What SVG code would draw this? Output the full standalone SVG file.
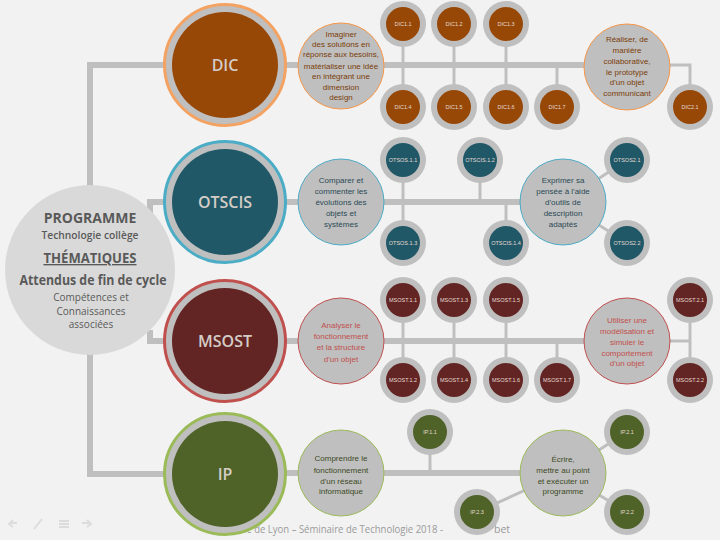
<svg xmlns="http://www.w3.org/2000/svg" width="720" height="540" viewBox="0 0 720 540">
<defs>
<style>
.bg{fill:#f2f2f2}
.thick{stroke:#bfbfbf;stroke-width:6;fill:none}
.thin{stroke:#bfbfbf;stroke-width:3;fill:none}
.ring{fill:#bfbfbf}
.big-lbl{font-family:"Open Sans","Liberation Sans",sans-serif;font-size:16px;font-weight:600;fill:#d4cdc6;text-anchor:middle}
.sm-lbl{font-family:"Liberation Sans",Arial,sans-serif;font-size:5.5px;fill:#e3dad2;text-anchor:middle}
.desc{font-family:"Liberation Sans",Arial,sans-serif;font-size:8px;text-anchor:middle}
.dic-d{fill:#bfbfbf;stroke:#f79646;stroke-width:1}
.ots-d{fill:#bfbfbf;stroke:#4bacc6;stroke-width:1}
.msost-d{fill:#bfbfbf;stroke:#c0504d;stroke-width:1}
.ip-d{fill:#bfbfbf;stroke:#9bbb59;stroke-width:1}
.dic-t{fill:#7a3d0a}
.ots-t{fill:#2b4a55}
.msost-t{fill:#c0504d}
.ip-t{fill:#3d4a25}
.dic-f{fill:#974706}
.ots-f{fill:#215868}
.msost-f{fill:#632523}
.ip-f{fill:#4f6228}
.left{font-family:"Open Sans","Liberation Sans",sans-serif;fill:#595959;text-anchor:middle}
.foot{font-family:"Open Sans","Liberation Sans",sans-serif;font-size:10.5px;fill:#9a9a9a}
.nav{fill:none;stroke:#dcdcdc;stroke-width:2}
</style>
</defs>
<rect class="bg" x="0" y="0" width="720" height="540"/>

<g id="footer">
<text class="foot" x="244" y="533" textLength="199" lengthAdjust="spacingAndGlyphs">ie de Lyon – Séminaire de Technologie 2018 -</text>
<text class="foot" x="494" y="533">bet</text>
</g>
<g id="nav-icons">
<path class="nav" d="M17,523 H10 M13,520 L9,524 L13,527"/>
<path class="nav" d="M34,529 L42,519"/>
<path class="nav" d="M59,521 H69 M59,524 H69 M59,527 H69"/>
<path class="nav" d="M82,523 H90 M87,520 L91,524 L87,527"/>
</g>

<g id="connectors">
<path class="thick" d="M90,190 V65 H170"/>
<path class="thick" d="M90,350 V474 H170"/>
<path class="thick" d="M150,215 V202 H170"/>
<path class="thick" d="M150,330 V341 H170"/>
<path class="thick" d="M280,65 H600"/>
<path class="thick" d="M280,202 H540"/>
<path class="thick" d="M280,341 H600"/>
<path class="thick" d="M280,473 H540"/>
<path class="thin" d="M403,24 V107 M454,24 V107 M506,24 V107 M557,65 V107 M660,65 H690 V107"/>
<path class="thin" d="M403,160 V243 M480,160 V202 M506,202 V243 M563,202 L627,160 M563,202 L627,243"/>
<path class="thin" d="M403,300 V380 M454,300 V380 M506,300 V380 M557,341 V380 M660,341 H690 M690,300 V380"/>
<path class="thin" d="M430,432 V473 M563,473 L627,432 M563,473 L627,512 M563,473 L477,512"/>
</g>

<g id="programme">
<circle cx="90" cy="270" r="85" fill="#d9d9d9"/>
<text class="left" x="90" y="223" font-size="14" font-weight="bold">PROGRAMME</text>
<text class="left" x="90" y="239" font-size="10" font-weight="600" textLength="97" lengthAdjust="spacingAndGlyphs">Technologie collège</text>
<text class="left" x="90" y="263" font-size="13.5" font-weight="bold" text-decoration="underline" textLength="93" lengthAdjust="spacingAndGlyphs">THÉMATIQUES</text>
<text class="left" x="93" y="285" font-size="13.5" font-weight="bold" textLength="147" lengthAdjust="spacingAndGlyphs">Attendus de fin de cycle</text>
<text class="left" x="91" y="301" font-size="10">Compétences et</text>
<text class="left" x="91" y="315" font-size="10">Connaissances</text>
<text class="left" x="91" y="328" font-size="10">associées</text>
</g>

<g id="DIC">
<circle cx="225" cy="65" r="60.5" fill="#bfbfbf" stroke="#f4a261" stroke-width="3"/>
<circle class="dic-f" cx="225" cy="65" r="53"/>
<text class="big-lbl" x="225" y="71">DIC</text>
</g>
<g id="OTSCIS">
<circle cx="225" cy="202" r="60.5" fill="#bfbfbf" stroke="#4bacc6" stroke-width="3"/>
<circle class="ots-f" cx="225" cy="202" r="53"/>
<text class="big-lbl" x="225" y="208">OTSCIS</text>
</g>
<g id="MSOST">
<circle cx="225" cy="341" r="60.5" fill="#bfbfbf" stroke="#c0504d" stroke-width="3"/>
<circle class="msost-f" cx="225" cy="341" r="53"/>
<text class="big-lbl" x="225" y="347">MSOST</text>
</g>
<g id="IP">
<circle cx="225" cy="474" r="60.5" fill="#bfbfbf" stroke="#9bbb59" stroke-width="3"/>
<circle class="ip-f" cx="225" cy="474" r="53"/>
<text class="big-lbl" x="225" y="480">IP</text>
</g>

<g id="DIC-desc1">
<circle class="dic-d" cx="341" cy="66" r="43"/>
<text class="desc dic-t" x="341" y="37">Imaginer</text>
<text class="desc dic-t" x="341" y="47">des solutions en</text>
<text class="desc dic-t" x="341" y="57">réponse aux besoins,</text>
<text class="desc dic-t" x="341" y="69">matérialiser une idée</text>
<text class="desc dic-t" x="341" y="79">en intégrant une</text>
<text class="desc dic-t" x="341" y="90">dimension</text>
<text class="desc dic-t" x="341" y="100">design</text>
</g>
<g id="DIC-desc2">
<circle class="dic-d" cx="627" cy="67" r="43"/>
<text class="desc dic-t" x="627" y="42">Réaliser, de</text>
<text class="desc dic-t" x="627" y="53">manière</text>
<text class="desc dic-t" x="627" y="64">collaborative,</text>
<text class="desc dic-t" x="627" y="75">le prototype</text>
<text class="desc dic-t" x="627" y="85">d'un objet</text>
<text class="desc dic-t" x="627" y="96">communicant</text>
</g>
<g id="DIC1.1"><circle class="ring" cx="403" cy="24" r="23"/><circle class="dic-f" cx="403" cy="24" r="17"/><text class="sm-lbl" x="403" y="26">DIC1.1</text></g>
<g id="DIC1.2"><circle class="ring" cx="454" cy="24" r="23"/><circle class="dic-f" cx="454" cy="24" r="17"/><text class="sm-lbl" x="454" y="26">DIC1.2</text></g>
<g id="DIC1.3"><circle class="ring" cx="506" cy="24" r="23"/><circle class="dic-f" cx="506" cy="24" r="17"/><text class="sm-lbl" x="506" y="26">DIC1.3</text></g>
<g id="DIC1.4"><circle class="ring" cx="403" cy="107" r="23"/><circle class="dic-f" cx="403" cy="107" r="17"/><text class="sm-lbl" x="403" y="109">DIC1.4</text></g>
<g id="DIC1.5"><circle class="ring" cx="454" cy="107" r="23"/><circle class="dic-f" cx="454" cy="107" r="17"/><text class="sm-lbl" x="454" y="109">DIC1.5</text></g>
<g id="DIC1.6"><circle class="ring" cx="506" cy="107" r="23"/><circle class="dic-f" cx="506" cy="107" r="17"/><text class="sm-lbl" x="506" y="109">DIC1.6</text></g>
<g id="DIC1.7"><circle class="ring" cx="557" cy="107" r="23"/><circle class="dic-f" cx="557" cy="107" r="17"/><text class="sm-lbl" x="557" y="109">DIC1.7</text></g>
<g id="DIC2.1"><circle class="ring" cx="690" cy="107" r="23"/><circle class="dic-f" cx="690" cy="107" r="17"/><text class="sm-lbl" x="690" y="109">DIC2.1</text></g>

<g id="OTSCIS-desc1">
<circle class="ots-d" cx="341" cy="202" r="43"/>
<text class="desc ots-t" x="341" y="183">Comparer et</text>
<text class="desc ots-t" x="341" y="194">commenter les</text>
<text class="desc ots-t" x="341" y="205">évolutions des</text>
<text class="desc ots-t" x="341" y="216">objets et</text>
<text class="desc ots-t" x="341" y="227">systèmes</text>
</g>
<g id="OTSCIS-desc2">
<circle class="ots-d" cx="563" cy="202" r="43"/>
<text class="desc ots-t" x="563" y="183">Exprimer sa</text>
<text class="desc ots-t" x="563" y="194">pensée à l'aide</text>
<text class="desc ots-t" x="563" y="205">d'outils de</text>
<text class="desc ots-t" x="563" y="216">description</text>
<text class="desc ots-t" x="563" y="227">adaptés</text>
</g>
<g id="OTSOS.1.1"><circle class="ring" cx="403" cy="160" r="23"/><circle class="ots-f" cx="403" cy="160" r="17"/><text class="sm-lbl" x="403" y="162">OTSOS.1.1</text></g>
<g id="OTSCIS.1.2"><circle class="ring" cx="480" cy="160" r="23"/><circle class="ots-f" cx="480" cy="160" r="17"/><text class="sm-lbl" x="480" y="162">OTSCIS.1.2</text></g>
<g id="OTSOS.1.3"><circle class="ring" cx="403" cy="243" r="23"/><circle class="ots-f" cx="403" cy="243" r="17"/><text class="sm-lbl" x="403" y="245">OTSOS.1.3</text></g>
<g id="OTSCIS.1.4"><circle class="ring" cx="506" cy="243" r="23"/><circle class="ots-f" cx="506" cy="243" r="17"/><text class="sm-lbl" x="506" y="245">OTSCIS.1.4</text></g>
<g id="OTSOS2.1"><circle class="ring" cx="627" cy="160" r="23"/><circle class="ots-f" cx="627" cy="160" r="17"/><text class="sm-lbl" x="627" y="162">OTSOS2.1</text></g>
<g id="OTSOS2.2"><circle class="ring" cx="627" cy="243" r="23"/><circle class="ots-f" cx="627" cy="243" r="17"/><text class="sm-lbl" x="627" y="245">OTSOS2.2</text></g>

<g id="MSOST-desc1">
<circle class="msost-d" cx="341" cy="341" r="43"/>
<text class="desc msost-t" x="341" y="328">Analyser le</text>
<text class="desc msost-t" x="341" y="339">fonctionnement</text>
<text class="desc msost-t" x="341" y="350">et la structure</text>
<text class="desc msost-t" x="341" y="362">d'un objet</text>
</g>
<g id="MSOST-desc2">
<circle class="msost-d" cx="627" cy="341" r="43"/>
<text class="desc msost-t" x="627" y="323">Utiliser une</text>
<text class="desc msost-t" x="627" y="334">modélisation et</text>
<text class="desc msost-t" x="627" y="345">simuler le</text>
<text class="desc msost-t" x="627" y="356">comportement</text>
<text class="desc msost-t" x="627" y="366">d'un objet</text>
</g>
<g id="MSOST.1.1"><circle class="ring" cx="403" cy="300" r="23"/><circle class="msost-f" cx="403" cy="300" r="17"/><text class="sm-lbl" x="403" y="302">MSOST.1.1</text></g>
<g id="MSOST.1.3"><circle class="ring" cx="454" cy="300" r="23"/><circle class="msost-f" cx="454" cy="300" r="17"/><text class="sm-lbl" x="454" y="302">MSOST.1.3</text></g>
<g id="MSOST.1.5"><circle class="ring" cx="506" cy="300" r="23"/><circle class="msost-f" cx="506" cy="300" r="17"/><text class="sm-lbl" x="506" y="302">MSOST.1.5</text></g>
<g id="MSOST.2.1"><circle class="ring" cx="690" cy="300" r="23"/><circle class="msost-f" cx="690" cy="300" r="17"/><text class="sm-lbl" x="690" y="302">MSOST.2.1</text></g>
<g id="MSOST.1.2"><circle class="ring" cx="403" cy="380" r="23"/><circle class="msost-f" cx="403" cy="380" r="17"/><text class="sm-lbl" x="403" y="382">MSOST.1.2</text></g>
<g id="MSOST.1.4"><circle class="ring" cx="454" cy="380" r="23"/><circle class="msost-f" cx="454" cy="380" r="17"/><text class="sm-lbl" x="454" y="382">MSOST.1.4</text></g>
<g id="MSOST.1.6"><circle class="ring" cx="506" cy="380" r="23"/><circle class="msost-f" cx="506" cy="380" r="17"/><text class="sm-lbl" x="506" y="382">MSOST.1.6</text></g>
<g id="MSOST.1.7"><circle class="ring" cx="557" cy="380" r="23"/><circle class="msost-f" cx="557" cy="380" r="17"/><text class="sm-lbl" x="557" y="382">MSOST.1.7</text></g>
<g id="MSOST.2.2"><circle class="ring" cx="690" cy="380" r="23"/><circle class="msost-f" cx="690" cy="380" r="17"/><text class="sm-lbl" x="690" y="382">MSOST.2.2</text></g>

<g id="IP-desc1">
<circle class="ip-d" cx="341" cy="473" r="43"/>
<text class="desc ip-t" x="341" y="461">Comprendre le</text>
<text class="desc ip-t" x="341" y="473">fonctionnement</text>
<text class="desc ip-t" x="341" y="484">d'un réseau</text>
<text class="desc ip-t" x="341" y="494">informatique</text>
</g>
<g id="IP-desc2">
<circle class="ip-d" cx="563" cy="473" r="43"/>
<text class="desc ip-t" x="563" y="462">Écrire,</text>
<text class="desc ip-t" x="563" y="473">mettre au point</text>
<text class="desc ip-t" x="563" y="484">et exécuter un</text>
<text class="desc ip-t" x="563" y="494">programme</text>
</g>
<g id="IP.1.1"><circle class="ring" cx="430" cy="432" r="23"/><circle class="ip-f" cx="430" cy="432" r="17"/><text class="sm-lbl" x="430" y="434">IP.1.1</text></g>
<g id="IP.2.1"><circle class="ring" cx="627" cy="432" r="23"/><circle class="ip-f" cx="627" cy="432" r="17"/><text class="sm-lbl" x="627" y="434">IP.2.1</text></g>
<g id="IP.2.2"><circle class="ring" cx="627" cy="512" r="23"/><circle class="ip-f" cx="627" cy="512" r="17"/><text class="sm-lbl" x="627" y="514">IP.2.2</text></g>
<g id="IP.2.3"><circle class="ring" cx="477" cy="512" r="23"/><circle class="ip-f" cx="477" cy="512" r="17"/><text class="sm-lbl" x="477" y="514">IP.2.3</text></g>
</svg>
